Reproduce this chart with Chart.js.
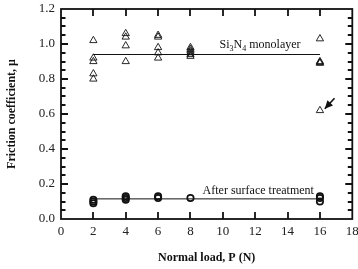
<!DOCTYPE html>
<html>
<head>
<meta charset="utf-8">
<script src="https://cdn.jsdelivr.net/npm/chart.js@4.4.1/dist/chart.umd.min.js"></script>
<style>
html,body{margin:0;padding:0;background:#fff;}
#wrap{width:358px;height:269px;position:relative;}
</style>
</head>
<body>
<div id="wrap"><canvas id="c"></canvas></div>
<script>
// ---- data ----
const loads = [2, 4, 6, 8, 16];
const si3n4Values = [
  [1.02, 0.92, 0.90, 0.83, 0.80],
  [1.06, 1.04, 0.99, 0.90],
  [1.05, 1.04, 0.98, 0.95, 0.92],
  [0.98, 0.97, 0.96, 0.95, 0.94, 0.93],
  [1.03, 0.90, 0.89, 0.895, 0.62]
];
const treatedValues = [
  [0.09, 0.10, 0.11],
  [0.11, 0.12, 0.13],
  [0.12, 0.13],
  [0.12],
  [0.10, 0.12, 0.13]
];
const si3n4Mean = 0.94;
const treatedMean = 0.115;
const fitRange = [2, 16];
const xTicks = [0, 2, 4, 6, 8, 10, 12, 14, 16, 18];
const yTicks = [0.0, 0.2, 0.4, 0.6, 0.8, 1.0, 1.2];

const toPoints = (vals) => loads.flatMap((x, i) => vals[i].map(y => ({x, y})));

const SERIF = '"Liberation Serif", "DejaVu Serif", serif';

const framePlugin = {
  id: 'frame',
  afterDraw(chart) {
    const ctx = chart.ctx;
    const a = chart.chartArea;
    const x = chart.scales.x, y = chart.scales.y;
    ctx.save();
    ctx.strokeStyle = '#111';
    ctx.lineWidth = 1.8;
    ctx.strokeRect(a.left, a.top, a.right - a.left, a.bottom - a.top);
    ctx.lineWidth = 1.8;
    for (let v = 2; v < 18; v += 2) {
      const px = Math.round(x.getPixelForValue(v));
      ctx.beginPath();
      ctx.moveTo(px, a.bottom); ctx.lineTo(px, a.bottom - 7);
      ctx.moveTo(px, a.top); ctx.lineTo(px, a.top + 7);
      ctx.stroke();
    }
    for (let k = 1; k < 24; k++) {
      const v = k * 0.05;
      const py = Math.round(y.getPixelForValue(v));
      const len = (k % 4 === 0) ? 7 : 4.5;
      ctx.beginPath();
      ctx.moveTo(a.left, py); ctx.lineTo(a.left + len, py);
      ctx.moveTo(a.right, py); ctx.lineTo(a.right - len, py);
      ctx.stroke();
    }

    ctx.fillStyle = '#111';
    ctx.textBaseline = 'alphabetic';
    let tx = x.getPixelForValue(9.8), ty = y.getPixelForValue(0.975);
    const big = '12px ' + SERIF, small = '8px ' + SERIF;
    const parts = [['Si', big, 0], ['3', small, 3], ['N', big, 0], ['4', small, 3], [' monolayer', big, 0]];
    for (const [t, f, dy] of parts) {
      ctx.font = f;
      ctx.fillText(t, tx, ty + dy);
      tx += ctx.measureText(t).width;
    }
    ctx.font = big;
    ctx.fillText('After surface treatment', x.getPixelForValue(8.75), y.getPixelForValue(0.145));

    // arrow
    const x0 = x.getPixelForValue(16.9), y0 = y.getPixelForValue(0.69);
    const x1 = x.getPixelForValue(16.3), y1 = y.getPixelForValue(0.63);
    ctx.lineWidth = 1.6;
    ctx.beginPath(); ctx.moveTo(x0, y0); ctx.lineTo(x1, y1); ctx.stroke();
    const ang = Math.atan2(y1 - y0, x1 - x0);
    const L = 8, W = 3.8;
    ctx.beginPath();
    ctx.moveTo(x1, y1);
    ctx.lineTo(x1 - L * Math.cos(ang) + W * Math.sin(ang), y1 - L * Math.sin(ang) - W * Math.cos(ang));
    ctx.lineTo(x1 - L * Math.cos(ang) - W * Math.sin(ang), y1 - L * Math.sin(ang) + W * Math.cos(ang));
    ctx.closePath(); ctx.fill();
    ctx.restore();
  }
};

new Chart(document.getElementById('c'), {
  type: 'scatter',
  data: {
    datasets: [
      {
        label: 'Si3N4 monolayer',
        data: toPoints(si3n4Values),
        pointStyle: 'triangle',
        pointRadius: 4.2,
        borderColor: '#111',
        backgroundColor: 'rgba(255,255,255,0)',
        borderWidth: 0.9
      },
      {
        label: 'After surface treatment',
        data: toPoints(treatedValues),
        pointStyle: 'circle',
        pointRadius: 3.2,
        borderColor: '#111',
        backgroundColor: 'rgba(255,255,255,0)',
        borderWidth: 1.7
      },
      {
        type: 'line',
        label: 'Si3N4 fit',
        data: fitRange.map(x => ({x, y: si3n4Mean})),
        borderColor: '#111', borderWidth: 1, pointRadius: 0, fill: false
      },
      {
        type: 'line',
        label: 'treated fit',
        data: fitRange.map(x => ({x, y: treatedMean})),
        borderColor: '#111', borderWidth: 1, pointRadius: 0, fill: false
      }
    ]
  },
  options: {
    responsive: true,
    maintainAspectRatio: false,
    animation: false,
    layout: {padding: {left: 0, right: 2.5, top: 9, bottom: 0}},
    plugins: {legend: {display: false}, tooltip: {enabled: false}},
    scales: {
      x: {
        type: 'linear', min: 0, max: 18,
        afterBuildTicks: s => { s.ticks = xTicks.map(v => ({value: v})); },
        ticks: {font: {family: SERIF, size: 13}, color: '#222', padding: 5, maxRotation: 0, autoSkip: false},
        grid: {display: false, drawTicks: false},
        border: {display: false},
        title: {display: true, text: 'Normal load, P (N)', font: {family: SERIF, size: 12, weight: 'bold'}, color: '#111', padding: {top: 0, bottom: 4}},
        afterFit: s => { s.height = 50; s.paddingLeft = 0; s.paddingRight = 0; }
      },
      y: {
        type: 'linear', min: 0, max: 1.2,
        afterBuildTicks: s => { s.ticks = yTicks.map(v => ({value: v})); },
        ticks: {font: {family: SERIF, size: 13}, color: '#222', padding: 6, callback: v => v.toFixed(1)},
        grid: {display: false, drawTicks: false},
        border: {display: false},
        title: {display: true, text: 'Friction coefficient, μ', font: {family: SERIF, size: 12, weight: 'bold'}, color: '#111', padding: {top: 5, bottom: 0}},
        afterFit: s => { s.width = 61; s.paddingTop = 0; s.paddingBottom = 0; }
      }
    }
  },
  plugins: [framePlugin]
});
</script>
</body>
</html>
